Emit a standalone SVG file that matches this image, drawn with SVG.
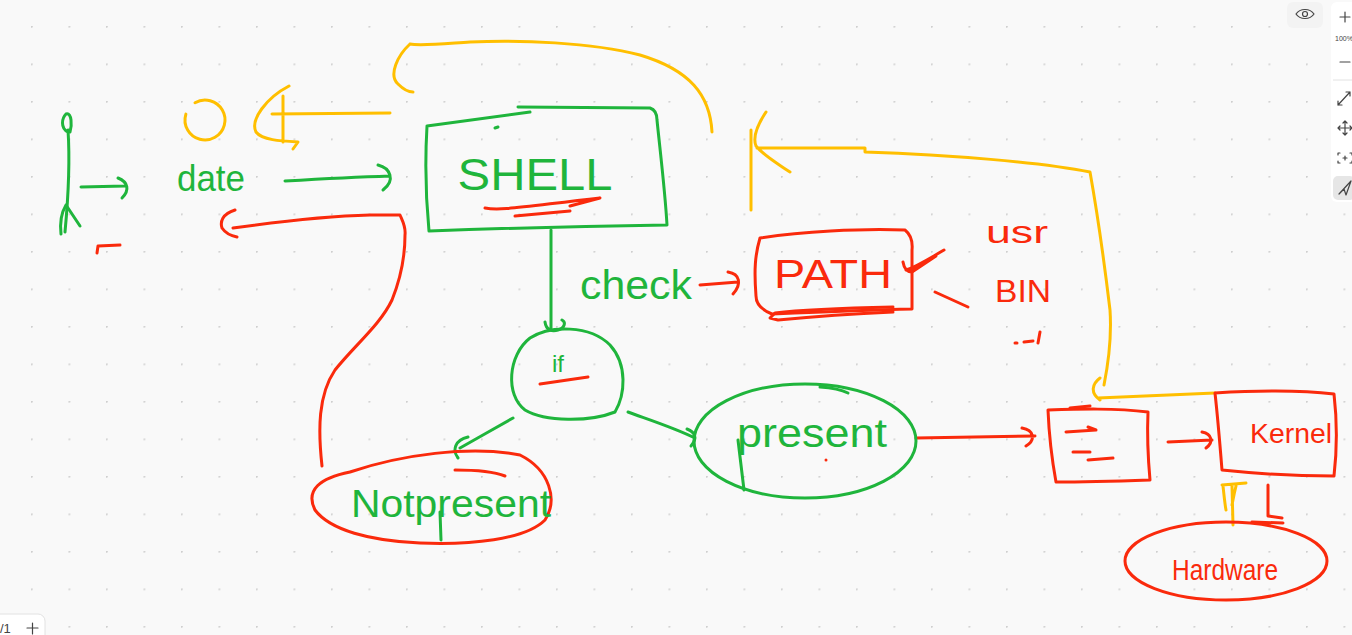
<svg xmlns="http://www.w3.org/2000/svg" width="1352" height="635" viewBox="0 0 1352 635">
<defs>
<pattern id="dots" x="31" y="26" width="37.5" height="37.5" patternUnits="userSpaceOnUse">
<circle cx="0.75" cy="0.75" r="1.1" fill="#cfcfcf"/>
</pattern>
<style>
.g{fill:none;stroke:#1fb53c;stroke-width:3;stroke-linecap:round;stroke-linejoin:round}
.r{fill:none;stroke:#fa2a0c;stroke-width:3;stroke-linecap:round;stroke-linejoin:round}
.y{fill:none;stroke:#ffbf00;stroke-width:3;stroke-linecap:round;stroke-linejoin:round}
.tg{fill:#1fb53c;font-family:"Liberation Sans",Arial,sans-serif}
.tr{fill:#fa2a0c;font-family:"Liberation Sans",Arial,sans-serif}
.ui{fill:#444;font-family:"Liberation Sans",Arial,sans-serif}
.ic{fill:none;stroke:#444;stroke-width:1.2;stroke-linecap:round;stroke-linejoin:round}
</style>
</defs>
<rect width="1352" height="635" fill="#f9f9f9"/>
<rect width="1352" height="635" fill="url(#dots)"/>

<g id="connectors">
<!-- left green axis -->
<path class="g" d="M68,130 C70,160 68,200 65,232"/>
<path class="g" d="M68,132 C60,128 62,118 66,114 C72,112 72,126 70,132"/>
<path class="g" d="M66,205 C60,215 60,225 61,234 M66,205 L80,226"/>
<path class="g" d="M81,187 L125,186 M118,178 C128,182 130,190 122,198"/>
<path class="r" d="M97,253 L98,246 L120,245"/>
<!-- date to shell -->
<path class="g" d="M285,181 C320,179 360,177 390,176 M378,165 C390,168 396,180 383,190"/>
<!-- yellow left arrow from shell -->
<path class="y" d="M390,113 L272,114 M283,96 L283,142 M289,86 C266,98 250,120 256,132 C262,140 280,141 298,142 L293,149"/>
<circle class="y" cx="205" cy="120" r="20" stroke-dasharray="110 30" transform="rotate(-120 205 120)"/>
<!-- yellow top arc -->
<path class="y" d="M712,132 C710,95 690,70 640,55 C590,42 520,40 470,42 C440,44 420,46 410,44 M410,44 C398,55 388,75 398,84 C404,90 410,92 413,92"/>
<!-- shell down to if -->
<path class="g" d="M551,230 L551,330 M545,322 C546,330 552,332 558,330 C565,328 566,322 562,320"/>
<!-- check to PATH -->
<path class="r" d="M700,285 L738,282 M728,272 C740,274 742,284 733,294"/>
<!-- yellow right loop -->
<path class="y" d="M751,210 L751,130 M766,112 C758,124 752,136 756,146 C764,156 778,164 790,172 M757,148 L865,148 L865,152 C950,155 1040,162 1090,172 C1095,200 1104,260 1110,310 C1112,340 1108,365 1104,385 M1100,378 C1092,384 1090,393 1100,400 M1098,398 L1215,393"/>
<!-- PATH side marks -->
<path class="r" d="M944,250 C930,258 918,266 906,270 M903,262 C904,268 906,272 912,272 M910,270 C918,266 928,260 936,256 L912,272"/>
<path class="r" d="M935,292 L968,307"/>
<path class="r" d="M1015,343 L1017,343 M1024,342 L1033,341 M1040,332 L1038,343"/>
<!-- if to present -->
<path class="g" d="M628,412 C650,420 675,428 695,438 M687,429 C695,432 698,438 691,446"/>
<!-- if to not present -->
<path class="g" d="M513,418 C495,428 478,438 460,448 M468,437 C455,440 452,450 458,458"/>
<!-- not present loop back to date -->
<path class="r" d="M322,466 C318,430 318,395 335,370 C355,345 380,325 392,300 C402,275 405,250 405,235 C406,227 403,222 400,215 L370,215 C330,216 290,220 233,228 M235,210 C222,214 220,222 222,228 C226,234 232,236 237,237"/>
<!-- present to small box -->
<path class="r" d="M916,438 L1035,436 M1022,428 C1034,430 1036,440 1026,446"/>
<!-- small box to kernel -->
<path class="r" d="M1168,442 L1212,440 M1202,432 C1212,434 1214,442 1206,448"/>
<!-- hardware to kernel -->
<path class="y" d="M1233,525 L1232,486 M1222,485 L1246,483 M1223,486 C1224,495 1225,505 1226,510 M1236,486 C1234,494 1233,500 1232,505"/>
<path class="r" d="M1268,485 L1268,516 L1282,518 M1252,522 L1283,523"/>
</g>

<g id="shell">
<path class="g" d="M427,126 L530,112 M518,107 L650,108 C656,110 657,115 657,120 C660,150 665,190 667,225 C600,226 510,228 429,231 C426,200 425,160 427,126"/>
<path class="g" d="M495,128 L498,127"/>
<text class="tg" x="535" y="190" font-size="44" text-anchor="middle" textLength="155" lengthAdjust="spacingAndGlyphs">SHELL</text>
<path class="r" d="M485,208 C500,211 520,207 600,198 L570,206 M515,216 L570,211"/>
</g>

<g id="date">
<text class="tg" x="211" y="191" font-size="36" text-anchor="middle" textLength="68" lengthAdjust="spacingAndGlyphs">date</text>
</g>

<g id="if">
<path class="g" d="M530,338 C550,325 590,325 610,345 C628,365 625,395 615,412 C590,422 545,422 525,410 C505,395 508,355 530,338"/>
<text class="tg" x="558" y="372" font-size="24" text-anchor="middle">if</text>
<path class="r" d="M540,384 L588,377" stroke-width="5"/>
</g>

<g id="check">
<text class="tg" x="636" y="299" font-size="40" text-anchor="middle" textLength="112" lengthAdjust="spacingAndGlyphs">check</text>
</g>

<g id="path">
<path class="r" d="M760,238 C800,232 860,228 905,230 C910,234 913,240 912,250 L912,309 C870,310 820,312 772,314 C762,310 756,305 756,296 C754,270 755,255 760,238"/>
<text class="tr" x="833" y="288" font-size="40" text-anchor="middle" textLength="118" lengthAdjust="spacingAndGlyphs">PATH</text>
<path class="r" d="M893,307 C850,308 800,310 775,313 L770,318 L778,320 C810,317 850,314 893,312"/>
</g>

<g id="usr">
<text class="tr" x="1017" y="243" font-size="32" text-anchor="middle" textLength="62" lengthAdjust="spacingAndGlyphs">usr</text>
</g>
<g id="bin">
<text class="tr" x="1023" y="302" font-size="32" text-anchor="middle" textLength="56" lengthAdjust="spacingAndGlyphs">BIN</text>
</g>

<g id="present">
<ellipse class="g" cx="805" cy="441" rx="111" ry="57"/>
<path class="g" d="M820,387 C835,388 842,390 848,393"/>
<text class="tg" x="812" y="447" font-size="40" text-anchor="middle" textLength="150" lengthAdjust="spacingAndGlyphs">present</text>
<path class="g" d="M738,440 L744,490"/>
<circle cx="826" cy="460" r="1.5" fill="#fa2a0c"/>
</g>

<g id="notpresent">
<path class="r" d="M350,472 C400,455 470,445 520,455 C550,470 558,500 545,520 C525,540 470,545 420,543 C370,541 330,530 315,510 C305,490 320,478 350,472"/>
<path class="r" d="M455,470 C480,470 495,472 505,476"/>
<text class="tg" x="451" y="517" font-size="38" text-anchor="middle" textLength="200" lengthAdjust="spacingAndGlyphs">Notpresent</text>
<path class="g" d="M440,512 L441,540"/>
</g>

<g id="smallbox">
<path class="r" d="M1048,410 C1080,409 1115,408 1148,412 C1147,435 1148,458 1150,480 C1120,481 1085,482 1056,482 C1052,460 1049,435 1048,410"/>
<path class="r" d="M1070,408 L1090,406"/>
<path class="r" d="M1066,432 L1096,430 L1088,427 M1073,452 L1090,452 M1088,460 L1113,458"/>
</g>

<g id="kernel">
<path class="r" d="M1215,393 C1250,391 1300,390 1334,394 C1337,420 1337,450 1334,476 C1300,476 1260,474 1222,470 C1220,445 1218,420 1215,393"/>
<text class="tr" x="1291" y="443" font-size="28" text-anchor="middle" textLength="82" lengthAdjust="spacingAndGlyphs">Kernel</text>
</g>

<g id="hardware">
<ellipse class="r" cx="1226" cy="561" rx="101" ry="39"/>
<text class="tr" x="1225" y="580" font-size="30" text-anchor="middle" textLength="106" lengthAdjust="spacingAndGlyphs">Hardware</text>
</g>

<g id="toolbar">
<rect x="1287" y="2" width="36" height="26" rx="6" fill="#f3f3f3"/>
<path class="ic" d="M1296,14 C1300,8 1310,8 1314,14 C1310,20 1300,20 1296,14 Z"/>
<circle cx="1305" cy="14" r="2.5" class="ic"/>
<rect x="1331" y="2" width="30" height="200" rx="6" fill="#ffffff"/>
<path class="ic" d="M1340,17 L1350,17 M1345,12 L1345,22" stroke-width="1.6"/>
<text class="ui" x="1335" y="41" font-size="7" fill="#999">100%</text>
<path class="ic" d="M1340,62 L1350,62" stroke-width="1.6"/>
<path d="M1333,80 L1352,80" stroke="#e2e2e2" stroke-width="1"/>
<path class="ic" d="M1338,105 L1350,92 M1346,92 L1350,92 L1350,96 M1338,101 L1338,105 L1342,105"/>
<path class="ic" d="M1345,121 L1345,135 M1338,128 L1352,128 M1343,123 L1345,121 L1347,123 M1343,133 L1345,135 L1347,133 M1340,126 L1338,128 L1340,130 M1350,126 L1352,128 L1350,130"/>
<path class="ic" d="M1338,155 L1338,153 L1340,153 M1350,153 L1352,153 L1352,155 M1338,161 L1338,163 L1340,163 M1350,163 L1352,163 L1352,161 M1343,158 L1347,158 M1345,156 L1345,160"/>
<rect x="1333" y="176" width="22" height="24" rx="5" fill="#e6e6e6"/>
<path class="ic" d="M1339,194 L1351,181 L1346,195 L1344,189 Z"/>
</g>

<g id="pager">
<rect x="-10" y="614" width="55" height="30" rx="7" fill="#ffffff" stroke="#e2e2e2"/>
<text class="ui" x="0" y="633" font-size="13" fill="#bbb">/1</text>
<path class="ic" d="M27,628 L38,628 M32.5,623 L32.5,634" stroke-width="1.6"/>
</g>
</svg>
